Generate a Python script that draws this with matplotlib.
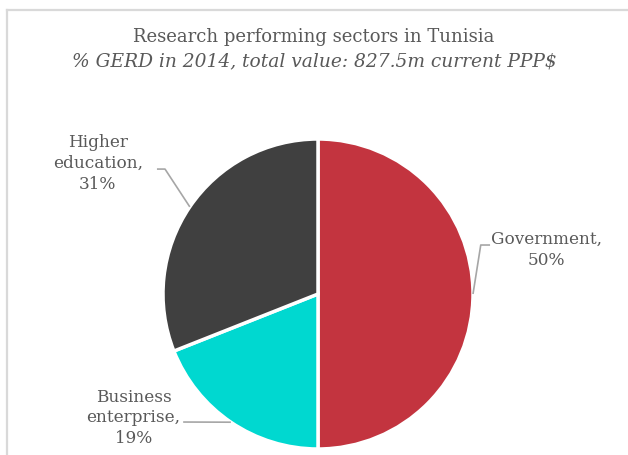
import numpy as np
import matplotlib
matplotlib.use("Agg")
import matplotlib.pyplot as plt
from matplotlib.lines import Line2D

# Research performing sectors, share of GERD (%)
sectors = ["Government", "Business enterprise", "Higher education"]
label_text = ["Government,\n50%", "Business\nenterprise,\n19%", "Higher\neducation,\n31%"]
shares = [50, 19, 31]
colors = ["#C3343F", "#00D8D0", "#404040"]

title = "Research performing sectors in Tunisia"
subtitle = "% GERD in 2014, total value: 827.5m current PPP$"

W, H = 628, 455
fig = plt.figure(figsize=(W / 100, H / 100), dpi=100)
fig.patch.set_facecolor("white")

# light frame along the left and top
fig.add_artist(Line2D([7 / W, 7 / W], [0, 1 - 10 / H], color="#D9D9D9", lw=1.6))
fig.add_artist(Line2D([7 / W, 1], [1 - 10 / H, 1 - 10 / H], color="#D9D9D9", lw=1.6))

serif = "DejaVu Serif"
txt = "#595959"
fig.text(0.5, 1 - 37 / H, title, ha="center", va="center", fontsize=13,
         family=serif, color=txt)
fig.text(0.5, 1 - 61 / H, subtitle, ha="center", va="center", fontsize=13.4,
         family=serif, style="italic", color=txt)

# pie axes: center (318, 294) px, radius 155 px
cx, cy, r = 318, 294, 155
ax = fig.add_axes([(cx - r) / W, (H - cy - r) / H, 2 * r / W, 2 * r / H])
wedges, _ = ax.pie(shares, colors=colors, startangle=90, counterclock=False,
                   radius=1, wedgeprops=dict(edgecolor="white", linewidth=2.5))
ax.set_xlim(-1, 1)
ax.set_ylim(-1, 1)
ax.set_aspect("equal")
ax.axis("off")

# label anchor layout: elbow point, line end, text position (data units)
layout = [
    ((1.05, 0.316), (1.11, 0.316), (1.475, 0.285)),
    ((-0.87, -0.826), (-0.87, -0.826), (-1.19, -0.80)),
    ((-0.987, 0.806), (-1.039, 0.806), (-1.42, 0.84)),
]
for w, lab, (elbow, end, tpos) in zip(wedges, label_text, layout):
    mid = np.deg2rad((w.theta1 + w.theta2) / 2)
    sx, sy = np.cos(mid), np.sin(mid)
    ax.plot([sx, elbow[0], end[0]], [sy, elbow[1], end[1]], color="#A6A6A6",
            lw=1.2, clip_on=False, solid_capstyle="butt")
    ax.text(tpos[0], tpos[1], lab, ha="center", va="center", fontsize=12.2,
            family=serif, color=txt, linespacing=1.3, clip_on=False)

fig.savefig("out.png", dpi=100, facecolor="white")
